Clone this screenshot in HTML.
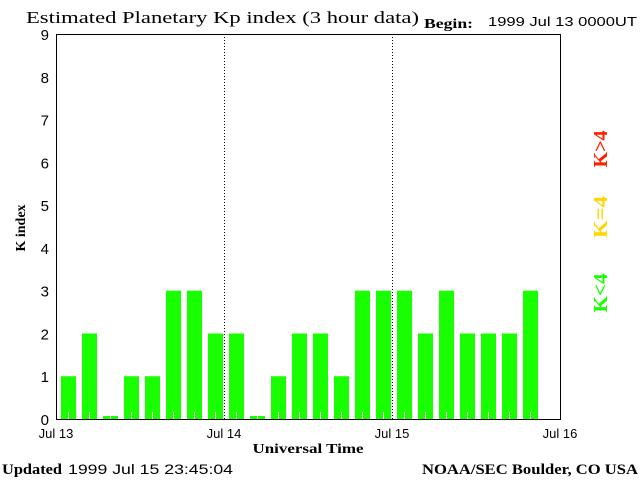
<!DOCTYPE html>
<html><head><meta charset="utf-8"><style>
html,body{margin:0;padding:0;background:#fff;width:640px;height:480px;overflow:hidden}
text{font-family:"Liberation Sans",sans-serif}
.serif{font-family:"Liberation Serif",serif}
</style></head><body>
<svg id="chart" width="640" height="480" xmlns="http://www.w3.org/2000/svg">
<text class="serif" x="26" y="23" font-size="17" textLength="393" lengthAdjust="spacingAndGlyphs">Estimated Planetary Kp index (3 hour data)</text>
<text class="serif" x="424" y="28" font-size="14" font-weight="bold" textLength="49" lengthAdjust="spacingAndGlyphs">Begin:</text>
<text x="488" y="26" font-size="13" textLength="149" lengthAdjust="spacingAndGlyphs">1999 Jul 13 0000UT</text>
<g id="bars"></g>
<g id="axes"></g>
<rect x="56.5" y="34.5" width="504" height="385" fill="none" stroke="#000" stroke-width="1"/>
<text class="serif" font-size="14" font-weight="bold" transform="translate(25,228) rotate(-90)" text-anchor="middle">K index</text>
<text class="serif" x="308" y="453" font-size="14" font-weight="bold" text-anchor="middle" textLength="111" lengthAdjust="spacingAndGlyphs">Universal Time</text>
<text class="serif" font-size="20" font-weight="bold" fill="#ff2000" transform="translate(607,149) rotate(-90)" text-anchor="middle" textLength="37" lengthAdjust="spacingAndGlyphs">K&gt;4</text>
<text class="serif" font-size="20" font-weight="bold" fill="#ffd700" transform="translate(607,217) rotate(-90)" text-anchor="middle" textLength="42" lengthAdjust="spacingAndGlyphs">K=4</text>
<text class="serif" font-size="20" font-weight="bold" fill="#1aff00" transform="translate(607,293) rotate(-90)" text-anchor="middle" textLength="39" lengthAdjust="spacingAndGlyphs">K&lt;4</text>
<text class="serif" x="2" y="474" font-size="15" font-weight="bold" textLength="60" lengthAdjust="spacingAndGlyphs">Updated</text>
<text x="68" y="474" font-size="14" textLength="165" lengthAdjust="spacingAndGlyphs">1999 Jul 15 23:45:04</text>
<text class="serif" x="422" y="474" font-size="15" font-weight="bold" textLength="216" lengthAdjust="spacingAndGlyphs">NOAA/SEC Boulder, CO USA</text>
</svg>
<script>
const kpValues = [1,2,0,1,1,3,3,2, 2,0,1,2,2,1,3,3, 3,2,3,2,2,2,3];
const yTicks = [0,1,2,3,4,5,6,7,8,9];
const dayLabels = ["Jul 13","Jul 14","Jul 15","Jul 16"];
const NS="http://www.w3.org/2000/svg";
const x0=56, plotW=504, slots=24, y0=419, yTop=34, yMax=9;
const xs = i => x0 + i*plotW/slots;
const ys = v => y0 - v*(y0-yTop)/yMax;
const color = v => v>4?"#ff2000":(v===4?"#ffd700":"#1aff00");
const bars=document.getElementById('bars'), axes=document.getElementById('axes');
function mk(tag,attrs,parent){const e=document.createElementNS(NS,tag);for(const k in attrs)e.setAttribute(k,attrs[k]);parent.appendChild(e);return e;}
kpValues.forEach((v,i)=>{
  const top = v===0 ? y0-3 : ys(v);
  const r=mk('rect',{x:xs(i)+5,y:top,width:15,height:y0-top,fill:color(v)},bars);
  
  
  const t=mk('line',{x1:xs(i)+12.5,x2:xs(i)+12.5,y1:y0-7,y2:y0,stroke:"#fff","stroke-width":1},bars);
  
  
});
yTicks.forEach(t=>{
  const e=mk('text',{x:49,y:ys(t)+6,"font-size":15,"text-anchor":"end"},axes);
  e.textContent=t;
  
  
});
dayLabels.forEach((d,i)=>{
  const x=x0+i*plotW/3;
  const e=mk('text',{x:x,y:438,"font-size":13,"text-anchor":"middle"},axes);
  e.textContent=d;
  
  
  if(i>0&&i<3){
    const l=mk('line',{x1:x+0.5,x2:x+0.5,y1:yTop,y2:y0,stroke:"#000","stroke-dasharray":"1,2"},axes);
    
    
  }
});
</script>
</body></html>
